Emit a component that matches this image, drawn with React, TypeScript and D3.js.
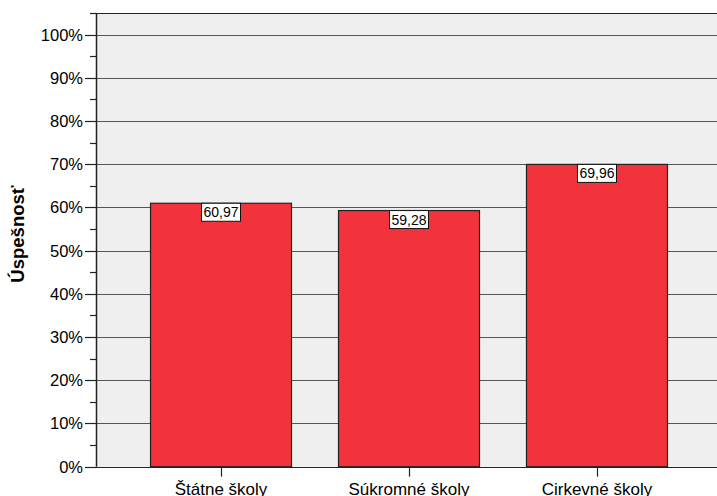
import React, { useEffect, useRef } from "react";
import * as d3 from "d3";

const categories = ["Štátne školy", "Súkromné školy", "Cirkevné školy"];
const values = [60.97, 59.28, 69.96];
const majorTicks = [0, 10, 20, 30, 40, 50, 60, 70, 80, 90, 100];
const minorTicks = [5, 15, 25, 35, 45, 55, 65, 75, 85, 95, 105];
const yTitle = "Úspešnosť";

const W = 717;
const H = 496;
const left = 96;
const right = 722;
const top = 13;
const bottom = 466.7;

export default function App() {
  const ref = useRef<SVGSVGElement>(null);
  useEffect(() => {
    const svg = d3.select(ref.current);
    svg.selectAll("*").remove();
    const font = "'Liberation Sans', Arial, sans-serif";

    const y = d3.scaleLinear().domain([0, 105]).range([bottom, top]);
    const x = d3
      .scaleBand<string>()
      .domain(categories)
      .range([left, right])
      .paddingInner(0.25)
      .paddingOuter(0.29);

    svg
      .append("rect")
      .attr("x", left)
      .attr("y", top)
      .attr("width", right - left)
      .attr("height", bottom - top)
      .attr("fill", "#efefef");

    // gridlines
    svg
      .append("g")
      .selectAll("line")
      .data(majorTicks.concat([105]))
      .join("line")
      .attr("x1", left)
      .attr("x2", right)
      .attr("y1", (d) => Math.round(y(d)) + 0.5)
      .attr("y2", (d) => Math.round(y(d)) + 0.5)
      .attr("stroke", (d) => (d === 0 || d === 105 ? "#222" : "#555"))
      .attr("stroke-width", 1.2);

    // bars
    svg
      .append("g")
      .selectAll("rect")
      .data(values)
      .join("rect")
      .attr("x", (d, i) => x(categories[i])!)
      .attr("width", x.bandwidth())
      .attr("y", (d) => y(d))
      .attr("height", (d) => bottom - y(d))
      .attr("fill", "#f2333b")
      .attr("stroke", "#222")
      .attr("stroke-width", 1.2);

    // value labels
    const lbl = svg
      .append("g")
      .selectAll("g")
      .data(values)
      .join("g")
      .attr(
        "transform",
        (d, i) => `translate(${x(categories[i])! + x.bandwidth() / 2},${y(d)})`
      );
    lbl
      .append("rect")
      .attr("x", -19.5)
      .attr("y", 0)
      .attr("width", 39)
      .attr("height", 18)
      .attr("fill", "#fff")
      .attr("stroke", "#111")
      .attr("stroke-width", 1);
    lbl
      .append("text")
      .attr("x", 0)
      .attr("y", 14)
      .attr("text-anchor", "middle")
      .attr("font-family", font)
      .attr("font-size", 14)
      .attr("fill", "#000")
      .text((d) => d.toFixed(2).replace(".", ","));

    // y axis line
    svg
      .append("line")
      .attr("x1", left + 0.5)
      .attr("x2", left + 0.5)
      .attr("y1", top)
      .attr("y2", bottom)
      .attr("stroke", "#222")
      .attr("stroke-width", 1.5);

    // major ticks
    svg
      .append("g")
      .selectAll("line")
      .data(majorTicks)
      .join("line")
      .attr("x1", 85)
      .attr("x2", left)
      .attr("y1", (d) => Math.round(y(d)) + 0.5)
      .attr("y2", (d) => Math.round(y(d)) + 0.5)
      .attr("stroke", "#222")
      .attr("stroke-width", 1.2);
    svg
      .append("g")
      .selectAll("line")
      .data(minorTicks)
      .join("line")
      .attr("x1", 90)
      .attr("x2", left)
      .attr("y1", (d) => Math.round(y(d)) + 0.5)
      .attr("y2", (d) => Math.round(y(d)) + 0.5)
      .attr("stroke", "#222")
      .attr("stroke-width", 1.2);

    svg
      .append("g")
      .selectAll("text")
      .data(majorTicks)
      .join("text")
      .attr("x", 83)
      .attr("y", (d) => y(d) + 6)
      .attr("text-anchor", "end")
      .attr("font-family", font)
      .attr("font-size", 16.5)
      .attr("fill", "#000")
      .text((d) => `${d}%`);

    // x ticks
    svg
      .append("g")
      .selectAll("line")
      .data(categories)
      .join("line")
      .attr("x1", (d) => Math.round(x(d)! + x.bandwidth() / 2) + 0.5)
      .attr("x2", (d) => Math.round(x(d)! + x.bandwidth() / 2) + 0.5)
      .attr("y1", bottom)
      .attr("y2", bottom + 10)
      .attr("stroke", "#222")
      .attr("stroke-width", 1.2);
    svg
      .append("g")
      .selectAll("text")
      .data(categories)
      .join("text")
      .attr("x", (d) => x(d)! + x.bandwidth() / 2)
      .attr("y", 494.5)
      .attr("text-anchor", "middle")
      .attr("font-family", font)
      .attr("font-size", 17)
      .attr("fill", "#000")
      .text((d) => d);

    svg
      .append("text")
      .attr("transform", `translate(24,234) rotate(-90)`)
      .attr("text-anchor", "middle")
      .attr("font-family", font)
      .attr("font-size", 18.5)
      .attr("font-weight", "bold")
      .attr("fill", "#000")
      .text(yTitle);
  }, []);

  return (
    <svg
      ref={ref}
      width={W}
      height={H}
      style={{ position: "absolute", left: 0, top: 0, background: "#fff" }}
    />
  );
}
